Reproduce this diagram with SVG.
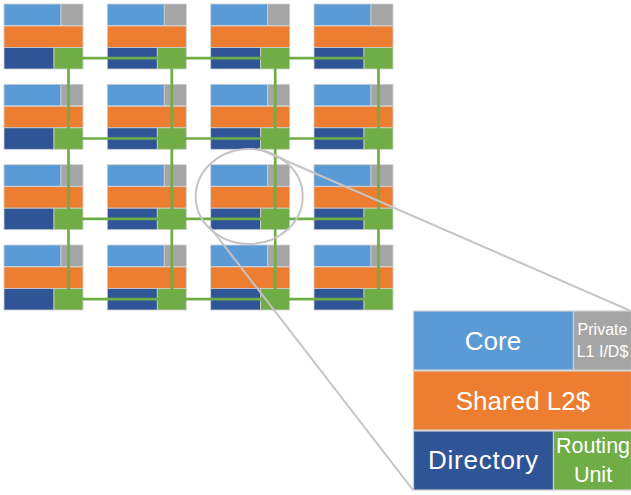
<svg xmlns="http://www.w3.org/2000/svg" xmlns:xlink="http://www.w3.org/1999/xlink" width="631" height="495" viewBox="0 0 631 495">
<style>
.core{fill:#5b9bd5}
.l1{fill:#a5a5a5}
.l2{fill:#ed7d31}
.dir{fill:#2f5597}
.ru{fill:#70ad47}
.blk{stroke:#cfcfcf;stroke-width:0.8}
.big{stroke:#cfcfcf;stroke-width:1.2}
.link{stroke:#70ad47;stroke-width:2.7;fill:none}
.zoom{stroke:#c4c4c4;stroke-width:2;fill:none}
.lbl{font-family:"Liberation Sans",Arial,sans-serif;fill:#ffffff;text-anchor:middle}
</style>
<defs>
<g id="t">
<rect class="core blk" x="0" y="0" width="57" height="21.5"/>
<rect class="l1 blk" x="57" y="0" width="22" height="21.5"/>
<rect class="l2 blk" x="0" y="22" width="79" height="21.5"/>
<rect class="dir blk" x="0" y="43.5" width="50" height="21.5"/>
<rect class="ru blk" x="50" y="43.5" width="29" height="21.5"/>
</g>
</defs>
<rect width="631" height="495" fill="#ffffff"/>
<g id="tiles">
<g id="tile-r1c1" transform="translate(4,4)"><use xlink:href="#t"/></g>
<g id="tile-r1c2" transform="translate(107.3,4)"><use xlink:href="#t"/></g>
<g id="tile-r1c3" transform="translate(210.7,4)"><use xlink:href="#t"/></g>
<g id="tile-r1c4" transform="translate(314,4)"><use xlink:href="#t"/></g>
<g id="tile-r2c1" transform="translate(4,84.3)"><use xlink:href="#t"/></g>
<g id="tile-r2c2" transform="translate(107.3,84.3)"><use xlink:href="#t"/></g>
<g id="tile-r2c3" transform="translate(210.7,84.3)"><use xlink:href="#t"/></g>
<g id="tile-r2c4" transform="translate(314,84.3)"><use xlink:href="#t"/></g>
<g id="tile-r3c1" transform="translate(4,164.7)"><use xlink:href="#t"/></g>
<g id="tile-r3c2" transform="translate(107.3,164.7)"><use xlink:href="#t"/></g>
<g id="tile-r3c3" transform="translate(210.7,164.7)"><use xlink:href="#t"/></g>
<g id="tile-r3c4" transform="translate(314,164.7)"><use xlink:href="#t"/></g>
<g id="tile-r4c1" transform="translate(4,245)"><use xlink:href="#t"/></g>
<g id="tile-r4c2" transform="translate(107.3,245)"><use xlink:href="#t"/></g>
<g id="tile-r4c3" transform="translate(210.7,245)"><use xlink:href="#t"/></g>
<g id="tile-r4c4" transform="translate(314,245)"><use xlink:href="#t"/></g>
</g>
<g id="connectors">
<line class="link" x1="68.5" y1="58.2" x2="378.5" y2="58.2"/>
<line class="link" x1="68.5" y1="138.5" x2="378.5" y2="138.5"/>
<line class="link" x1="68.5" y1="218.9" x2="378.5" y2="218.9"/>
<line class="link" x1="68.5" y1="299.2" x2="378.5" y2="299.2"/>
<line class="link" x1="68.5" y1="58.2" x2="68.5" y2="299.2"/>
<line class="link" x1="171.8" y1="58.2" x2="171.8" y2="299.2"/>
<line class="link" x1="275.2" y1="58.2" x2="275.2" y2="299.2"/>
<line class="link" x1="378.5" y1="58.2" x2="378.5" y2="299.2"/>
</g>
<g id="zoom-callout">
<ellipse class="zoom" cx="249.2" cy="196.5" rx="53.5" ry="47.5"/>
<line class="zoom" x1="258" y1="148.5" x2="631" y2="311"/>
<line class="zoom" x1="209" y1="226" x2="413" y2="490"/>
</g>
<g id="tile-detail">
<g id="core">
<rect class="core big" x="413.5" y="311" width="160" height="59"/>
<text class="lbl" x="493" y="350" font-size="26">Core</text>
</g>
<g id="private-l1">
<rect class="l1 big" x="573.5" y="311" width="58" height="59"/>
<text class="lbl" x="602.5" y="335" font-size="16" fill="#f2f2f2">Private</text>
<text class="lbl" x="602.5" y="357" font-size="16" fill="#f2f2f2">L1 I/D$</text>
</g>
<g id="shared-l2">
<rect class="l2 big" x="413.5" y="371" width="218" height="59"/>
<text class="lbl" x="523" y="410" font-size="26">Shared L2$</text>
</g>
<g id="directory">
<rect class="dir big" x="413.5" y="431" width="140" height="59"/>
<text class="lbl" x="483" y="468.5" font-size="26" textLength="110" lengthAdjust="spacing">Directory</text>
</g>
<g id="routing-unit">
<rect class="ru big" x="553.5" y="431" width="78" height="59"/>
<text class="lbl" x="593" y="453" font-size="21.5">Routing</text>
<text class="lbl" x="593" y="482" font-size="21.5">Unit</text>
</g>
</g>
</svg>
